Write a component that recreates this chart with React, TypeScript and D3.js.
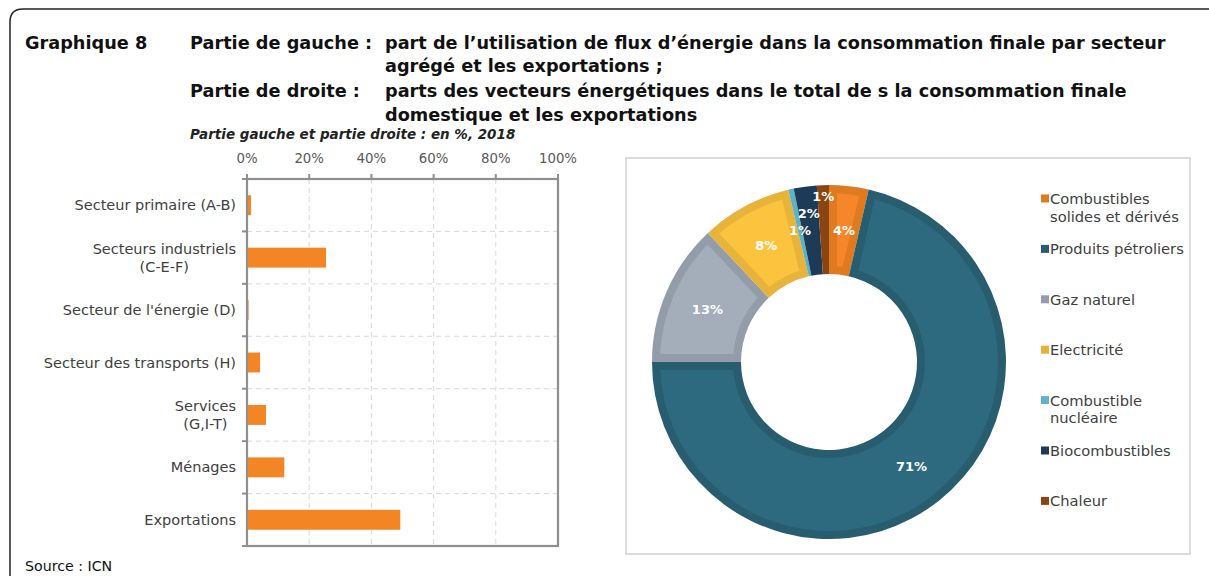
import React, { useEffect, useRef } from 'react';
import * as d3 from 'd3';

// left part: share of energy flows by aggregated sector (%)
const sectors = [
  'Secteur primaire (A-B)',
  'Secteurs industriels\n(C-E-F)',
  "Secteur de l'énergie (D)",
  'Secteur des transports (H)',
  'Services\n(G,I-T)',
  'Ménages',
  'Exportations',
];
const sectorShares = [1.3, 25.4, 0.5, 4.2, 6.1, 12.0, 49.3];
const xTicks = [0, 20, 40, 60, 80, 100];

// right part: energy carriers (%)
const carriers = [
  'Combustibles\nsolides et dérivés',
  'Produits pétroliers',
  'Gaz naturel',
  'Electricité',
  'Combustible\nnucléaire',
  'Biocombustibles',
  'Chaleur',
];
const carrierShares = [3.6, 71.4, 13.0, 8.3, 0.5, 2.1, 1.1];
const carrierFill = ['#f5862a', '#2e6a7f', '#a4aebb', '#fcc33e', '#5db3c5', '#1d3a57', '#8b4513'];
const carrierEdge = ['#e07a20', '#285d6f', '#939ca9', '#e7b33a', '#5db3c5', '#1d3a57', '#8b4513'];

const FONT = '"DejaVu Sans", sans-serif';

export default function App() {
  const ref = useRef<SVGSVGElement>(null);

  useEffect(() => {
    const svg = d3.select(ref.current);
    svg.selectAll('*').remove();

    // frame
    svg.append('path')
      .attr('d', 'M10,580 L10,22 Q10,9 23,9 L1212,9')
      .attr('fill', 'none')
      .attr('stroke', '#222')
      .attr('stroke-width', 1.5);

    // titles
    const title = svg.append('g')
      .attr('font-family', FONT)
      .attr('font-weight', 'bold')
      .attr('font-size', 17.7)
      .attr('fill', '#111');
    title.append('text').attr('x', 25).attr('y', 49).text('Graphique 8');
    title.append('text').attr('x', 190).attr('y', 49).text('Partie de gauche :');
    title.append('text').attr('x', 385).attr('y', 49)
      .text('part de l\u2019utilisation de flux d\u2019énergie dans la consommation finale par secteur');
    title.append('text').attr('x', 385).attr('y', 72).text('agrégé et les exportations ;');
    title.append('text').attr('x', 190).attr('y', 97).text('Partie de droite :');
    title.append('text').attr('x', 385).attr('y', 97)
      .text('parts des vecteurs énergétiques dans le total de s la consommation finale');
    title.append('text').attr('x', 385).attr('y', 121).text('domestique et les exportations');
    svg.append('text')
      .attr('x', 190).attr('y', 139)
      .attr('font-family', FONT)
      .attr('font-weight', 'bold')
      .attr('font-style', 'italic')
      .attr('font-size', 13.5)
      .attr('fill', '#222')
      .text('Partie gauche et partie droite : en %, 2018');

    svg.append('text')
      .attr('x', 25).attr('y', 571)
      .attr('font-family', FONT)
      .attr('font-size', 14.2)
      .attr('fill', '#111')
      .text('Source : ICN');

    // ---- bar chart ----
    const x0 = 247, x1 = 558, y0 = 179, y1 = 546;
    const x = d3.scaleLinear().domain([0, 100]).range([x0, x1]);
    const y = d3.scaleBand<string>().domain(sectors).range([y0, y1])
      .paddingInner(0.62).paddingOuter(0.31);
    const step = (y1 - y0) / sectors.length;

    const bars = svg.append('g');
    const grid = '#d9d9d9';
    bars.selectAll('.vgrid')
      .data(xTicks.slice(1, -1))
      .enter().append('line')
      .attr('x1', (d) => x(d)).attr('x2', (d) => x(d))
      .attr('y1', y0).attr('y2', y1)
      .attr('stroke', grid).attr('stroke-dasharray', '5,4');
    bars.selectAll('.hgrid')
      .data(d3.range(1, sectors.length))
      .enter().append('line')
      .attr('x1', x0).attr('x2', x1)
      .attr('y1', (i) => y0 + i * step).attr('y2', (i) => y0 + i * step)
      .attr('stroke', grid).attr('stroke-dasharray', '5,4');

    bars.selectAll('.bar')
      .data(sectorShares)
      .enter().append('rect')
      .attr('x', x(0))
      .attr('y', (d, i) => y(sectors[i]) as number)
      .attr('width', (d) => x(d) - x(0))
      .attr('height', y.bandwidth())
      .attr('fill', '#f48525');

    const axisColor = '#8f8f8f';
    bars.append('rect')
      .attr('x', x0).attr('y', y0)
      .attr('width', x1 - x0).attr('height', y1 - y0)
      .attr('fill', 'none').attr('stroke', axisColor).attr('stroke-width', 2.2);
    bars.selectAll('.ytick')
      .data(d3.range(0, sectors.length + 1))
      .enter().append('line')
      .attr('x1', x0 - 5).attr('x2', x0)
      .attr('y1', (i) => y0 + i * step).attr('y2', (i) => y0 + i * step)
      .attr('stroke', axisColor).attr('stroke-width', 2);
    bars.selectAll('.xtick')
      .data(xTicks)
      .enter().append('line')
      .attr('x1', (d) => x(d)).attr('x2', (d) => x(d))
      .attr('y1', y0 - 5).attr('y2', y0)
      .attr('stroke', axisColor).attr('stroke-width', 2);
    bars.selectAll('.xlabel')
      .data(xTicks)
      .enter().append('text')
      .attr('x', (d) => x(d)).attr('y', 163)
      .attr('text-anchor', 'middle')
      .attr('font-family', FONT).attr('font-size', 13.3)
      .attr('fill', '#595959')
      .text((d) => d + '%');

    sectors.forEach((name) => {
      const lines = name.split('\n');
      const cy = (y(name) as number) + y.bandwidth() / 2;
      const g = bars.append('g')
        .attr('font-family', FONT).attr('font-size', 14.5).attr('fill', '#404040');
      const texts = lines.map((ln, k) =>
        g.append('text')
          .attr('y', cy + 5 + (k - (lines.length - 1) / 2) * 18)
          .attr('text-anchor', 'middle')
          .text(ln));
      const w = d3.max(texts, (t) => (t.node() as SVGTextElement).getComputedTextLength()) || 0;
      texts.forEach((t) => t.attr('x', 236 - w / 2));
    });

    // ---- doughnut ----
    svg.append('rect')
      .attr('x', 626).attr('y', 158)
      .attr('width', 564).attr('height', 396)
      .attr('fill', 'white').attr('stroke', '#dcdcdc').attr('stroke-width', 2);

    const cx = 829, cy = 362, rOut = 177, rIn = 88;
    const pie = d3.pie<number>().sort(null).startAngle(0).endAngle(2 * Math.PI);
    const slices = pie(carrierShares);
    const arc = d3.arc<d3.PieArcDatum<number>>().innerRadius(rIn).outerRadius(rOut);
    const inset = 8;
    const arcInner = d3.arc<d3.PieArcDatum<number>>()
      .innerRadius(rIn + inset).outerRadius(rOut - inset)
      .padAngle((2 * inset) / (rOut - inset)).padRadius(rOut - inset);

    const donut = svg.append('g').attr('transform', `translate(${cx},${cy})`);
    donut.selectAll('.edge')
      .data(slices)
      .enter().append('path')
      .attr('d', arc)
      .attr('fill', (d) => carrierEdge[d.index]);
    donut.selectAll('.core')
      .data(slices)
      .enter().append('path')
      .attr('d', arcInner)
      .attr('fill', (d) => carrierFill[d.index]);

    // small slices have their labels pushed outward
    const labelR: Record<number, number> = { 4: 135, 5: 150, 6: 166 };
    donut.selectAll('.pct')
      .data(slices)
      .enter().append('text')
      .attr('transform', (d) => {
        const a = (d.startAngle + d.endAngle) / 2;
        const r = labelR[d.index] ?? (rIn + rOut) / 2;
        return `translate(${Math.sin(a) * r},${-Math.cos(a) * r + 5})`;
      })
      .attr('text-anchor', 'middle')
      .attr('font-family', FONT).attr('font-weight', 'bold').attr('font-size', 13)
      .attr('fill', 'white')
      .text((d) => Math.round(d.data) + '%');

    const legend = svg.append('g')
      .attr('font-family', FONT).attr('font-size', 14.7).attr('fill', '#404040');
    carriers.forEach((name, i) => {
      const ly = 199 + i * 50.4;
      legend.append('rect')
        .attr('x', 1041).attr('y', ly - 4.5)
        .attr('width', 8).attr('height', 8)
        .attr('fill', carrierEdge[i] === carrierFill[i] ? carrierFill[i] : carrierEdge[i]);
      name.split('\n').forEach((ln, k) => {
        legend.append('text')
          .attr('x', 1050).attr('y', ly + 5 + k * 17.5)
          .text(ln);
      });
    });
  }, []);

  return (
    <svg
      ref={ref}
      width={1209}
      height={576}
      style={{ position: 'absolute', left: 0, top: 0, background: 'white' }}
    />
  );
}
